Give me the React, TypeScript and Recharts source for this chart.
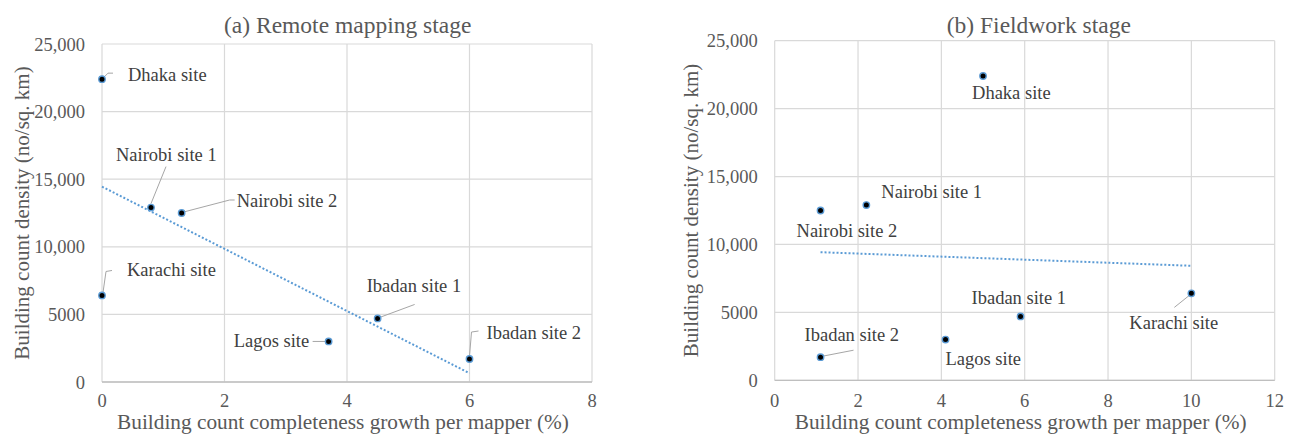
import React from 'react';
import { ScatterChart, Scatter, XAxis, YAxis, CartesianGrid, ReferenceLine } from 'recharts';

// ---------- data ----------
const sitesA = ['Dhaka site', 'Nairobi site 1', 'Nairobi site 2', 'Karachi site', 'Lagos site', 'Ibadan site 1', 'Ibadan site 2'];
const growthA = [0, 0.8, 1.3, 0, 3.7, 4.5, 6.0];
const densityA = [22400, 12900, 12500, 6400, 3000, 4700, 1700];
const trendA = [
  { x: 0, y: 14450 },
  { x: 6, y: 650 },
];

const sitesB = ['Dhaka site', 'Nairobi site 1', 'Nairobi site 2', 'Karachi site', 'Lagos site', 'Ibadan site 1', 'Ibadan site 2'];
const growthB = [5.0, 2.2, 1.1, 10.0, 4.1, 5.9, 1.1];
const densityB = [22400, 12900, 12500, 6400, 3000, 4700, 1700];
const trendB = [
  { x: 1.1, y: 9430 },
  { x: 10, y: 8430 },
];

const xTicksA = [0, 2, 4, 6, 8];
const xTicksB = [0, 2, 4, 6, 8, 10, 12];
const yTicks = [0, 5000, 10000, 15000, 20000, 25000];
const yTickLabels = ['0', '5000', '10,000', '15,000', '20,000', '25,000'];

const titleA = '(a) Remote mapping stage';
const titleB = '(b) Fieldwork stage';
const xTitle = 'Building count completeness growth per mapper (%)';
const yTitle = 'Building count density (no/sq. km)';

// ---------- label layout (pixel offsets from each point) ----------
type LabelPos = { dx: number; dy: number; leader?: number[][] };
const labelLayoutA: Record<string, LabelPos> = {
  'Dhaka site': { dx: 26, dy: -4.5, leader: [[2, -2], [6, -6], [11, -6]] },
  'Nairobi site 1': { dx: -35, dy: -53, leader: [[0, -4], [15, -41]] },
  'Nairobi site 2': { dx: 55, dy: -12, leader: [[2, -1], [48, -13], [53, -13]] },
  'Karachi site': { dx: 25, dy: -25, leader: [[1, -3], [4, -24], [10, -25]] },
  'Lagos site': { dx: -95, dy: 0, leader: [[-16, 0], [-3, 0]] },
  'Ibadan site 1': { dx: -11, dy: -32, leader: [[2, -1], [37, -14]] },
  'Ibadan site 2': { dx: 17, dy: -26, leader: [[0, -3], [2, -27], [9, -28]] },
};
const labelLayoutB: Record<string, LabelPos> = {
  'Dhaka site': { dx: -11, dy: 17 },
  'Nairobi site 1': { dx: 15, dy: -13 },
  'Nairobi site 2': { dx: -24, dy: 20 },
  'Karachi site': { dx: -62, dy: 30, leader: [[-2, 2], [-17, 14]] },
  'Lagos site': { dx: 0, dy: 19 },
  'Ibadan site 1': { dx: -49, dy: -18 },
  'Ibadan site 2': { dx: -16, dy: -22, leader: [[2, -1], [33, -7]] },
};

const FONT = 'Liberation Serif, DejaVu Serif, serif';
const GREY = '#595959';
const LABEL = '#404040';

const makeRows = (sites: string[], xs: number[], ys: number[]) =>
  sites.map((name, i) => ({ name, x: xs[i], y: ys[i] }));

const MarkerWithLabel = (props: any) => {
  const { cx, cy, payload, layout } = props;
  if (cx == null || cy == null) return null;
  const pos: LabelPos | undefined = layout[payload.name];
  return (
    <g>
      {pos && pos.leader && (
        <polyline
          points={pos.leader.map((p: number[]) => `${cx + p[0]},${cy + p[1]}`).join(' ')}
          fill="none"
          stroke="#a6a6a6"
          strokeWidth={1}
        />
      )}
      <circle cx={cx} cy={cy} r={3.2} fill="#000" stroke="#5b9bd5" strokeWidth={1.4} />
      {pos && (
        <text
          x={cx + pos.dx}
          y={cy + pos.dy}
          dominantBaseline="central"
          textAnchor="start"
          style={{ fontFamily: FONT, fontSize: 18.5 }}
          fill={LABEL}
        >
          {payload.name}
        </text>
      )}
    </g>
  );
};

type PanelProps = {
  left: number;
  width: number;
  marginTop: number;
  marginRight: number;
  yAxisWidth: number;
  xAxisHeight: number;
  xTickMargin: number;
  xMax: number;
  xTicks: number[];
  rows: { name: string; x: number; y: number }[];
  trend: { x: number; y: number }[];
  layout: Record<string, LabelPos>;
  title: string;
  titleX: number;
  yTitleX: number;
};

const tickStyle = { fill: GREY, fontSize: 18.5, fontFamily: FONT, style: { fontFamily: FONT } };

const Panel = (p: PanelProps) => {
  const H = 434;
  const plotLeft = p.yAxisWidth;
  const plotRight = p.width - p.marginRight;
  const plotTop = p.marginTop;
  const plotBottom = H - p.xAxisHeight;
  const yMid = (plotTop + plotBottom) / 2;
  return (
    <div style={{ position: 'absolute', left: p.left, top: 0, width: p.width, height: H, fontFamily: FONT }}>
      <ScatterChart
        width={p.width}
        height={H}
        margin={{ top: p.marginTop, right: p.marginRight, bottom: 0, left: 0 }}
        style={{ fontFamily: FONT }}
      >
        <CartesianGrid stroke="#d9d9d9" strokeWidth={1.2} />
        <XAxis
          type="number"
          dataKey="x"
          domain={[0, p.xMax]}
          ticks={p.xTicks}
          height={p.xAxisHeight}
          axisLine={{ stroke: '#bfbfbf', strokeWidth: 1.3 }}
          tickLine={false}
          tickMargin={p.xTickMargin}
          tick={tickStyle}
          interval={0}
        />
        <YAxis
          type="number"
          dataKey="y"
          domain={[0, 25000]}
          ticks={yTicks}
          width={p.yAxisWidth}
          axisLine={false}
          tickLine={false}
          tickMargin={11}
          tick={tickStyle}
          tickFormatter={(v: number) => yTickLabels[yTicks.indexOf(v)] ?? String(v)}
          interval={0}
        />
        <ReferenceLine
          segment={p.trend}
          stroke="#5b9bd5"
          strokeWidth={2}
          strokeDasharray="2 2"
          ifOverflow="visible"
        />
        <Scatter
          data={p.rows}
          isAnimationActive={false}
          shape={(sp: any) => <MarkerWithLabel {...sp} layout={p.layout} />}
        />
      </ScatterChart>
      <svg
        width={p.width}
        height={H}
        style={{ position: 'absolute', left: 0, top: 0, pointerEvents: 'none' }}
      >
        <text x={p.titleX} y={33} textAnchor="middle" style={{ fontFamily: FONT, fontSize: 23.5 }} fill={GREY}>
          {p.title}
        </text>
        <text
          x={(plotLeft + plotRight) / 2 - 4}
          y={429}
          textAnchor="middle"
          style={{ fontFamily: FONT, fontSize: 21.3 }}
          fill={GREY}
        >
          {xTitle}
        </text>
        <text
          x={p.yTitleX}
          y={yMid}
          textAnchor="middle"
          style={{ fontFamily: FONT, fontSize: 21 }}
          fill={GREY}
          transform={`rotate(-90, ${p.yTitleX}, ${yMid})`}
        >
          {yTitle}
        </text>
      </svg>
    </div>
  );
};

export default function App() {
  const rowsA = makeRows(sitesA, growthA, densityA);
  const rowsB = makeRows(sitesB, growthB, densityB);
  return (
    <div style={{ position: 'absolute', left: 0, top: 0, width: 1293, height: 434, background: '#fff' }}>
      <Panel
        left={0}
        width={640}
        marginTop={44}
        marginRight={48}
        yAxisWidth={102}
        xAxisHeight={52}
        xTickMargin={6}
        xMax={8}
        xTicks={xTicksA}
        rows={rowsA}
        trend={trendA}
        layout={labelLayoutA}
        title={titleA}
        titleX={347.7}
        yTitleX={28.5}
      />
      <Panel
        left={640}
        width={653}
        marginTop={40.7}
        marginRight={18.3}
        yAxisWidth={134.7}
        xAxisHeight={53.7}
        xTickMargin={8}
        xMax={12}
        xTicks={xTicksB}
        rows={rowsB}
        trend={trendB}
        layout={labelLayoutB}
        title={titleB}
        titleX={398.8}
        yTitleX={58.3}
      />
    </div>
  );
}
